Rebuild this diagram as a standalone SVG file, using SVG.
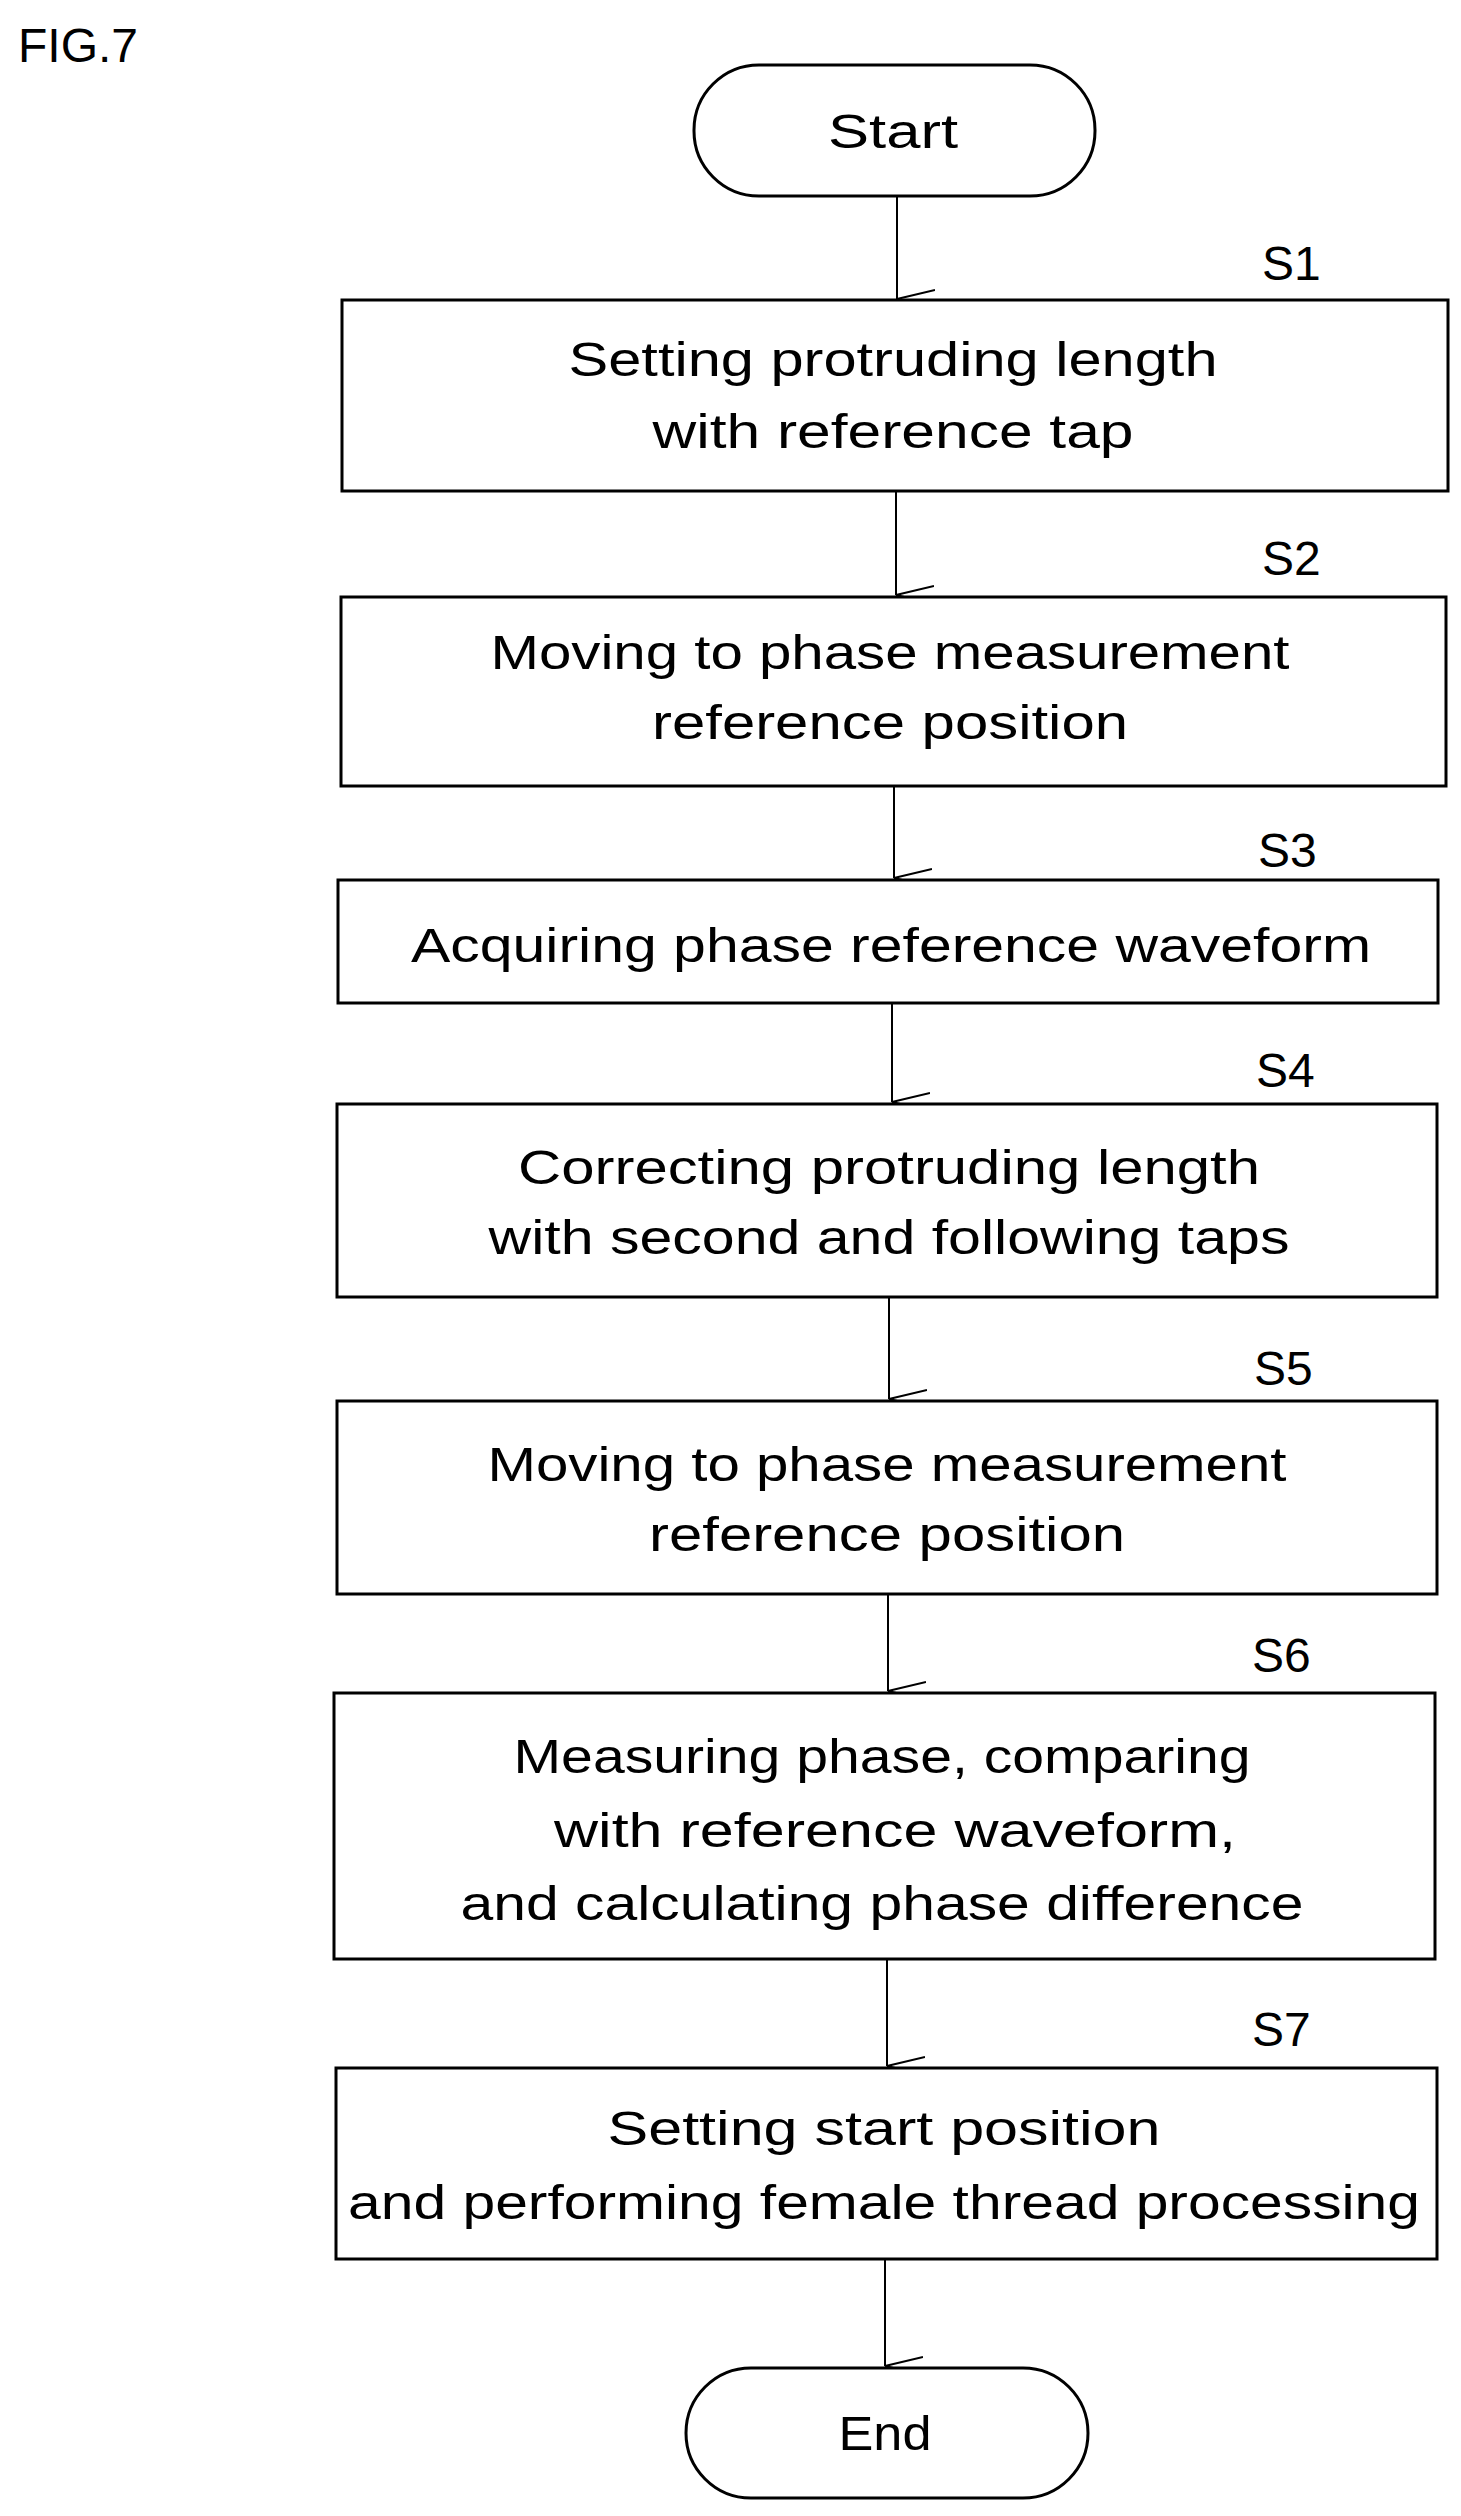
<svg xmlns="http://www.w3.org/2000/svg" width="1461" height="2516" viewBox="0 0 1461 2516">
<style>
.b{fill:#fff;stroke:#000;stroke-width:3}
.t{font-family:"Liberation Sans",Arial,sans-serif;font-size:48px;text-anchor:middle;fill:#000}
.l{font-family:"Liberation Sans",Arial,sans-serif;font-size:48px;fill:#000}
.c{stroke:#000;stroke-width:2;fill:none}
</style>
<defs><marker id="a" markerWidth="20" markerHeight="40" refX="10" refY="38" orient="auto" markerUnits="userSpaceOnUse" viewBox="0 0 20 40"><polyline points="1,0 10,38 19,0" fill="none" stroke="#000" stroke-width="2"/></marker></defs>
<text x="18" y="62" class="l" font-size="44">FIG.7</text>
<g id="connectors">
<line class="c" x1="897" y1="196" x2="897" y2="299" marker-end="url(#a)"/>
<line class="c" x1="896" y1="491" x2="896" y2="595" marker-end="url(#a)"/>
<line class="c" x1="894" y1="786" x2="894" y2="878" marker-end="url(#a)"/>
<line class="c" x1="892" y1="1003" x2="892" y2="1102" marker-end="url(#a)"/>
<line class="c" x1="889" y1="1297" x2="889" y2="1399" marker-end="url(#a)"/>
<line class="c" x1="888" y1="1594" x2="888" y2="1691" marker-end="url(#a)"/>
<line class="c" x1="887" y1="1959" x2="887" y2="2066" marker-end="url(#a)"/>
<line class="c" x1="885" y1="2259" x2="885" y2="2366" marker-end="url(#a)"/>
</g>
<g id="start"><rect class="b" x="694" y="65" width="401" height="131" rx="65"/><text class="t" x="893" y="148" textLength="130" lengthAdjust="spacingAndGlyphs">Start</text></g>
<g id="s1"><rect class="b" x="342" y="300" width="1106" height="191"/><text class="l" x="1262" y="280">S1</text>
<text class="t" x="893" y="376" textLength="649" lengthAdjust="spacingAndGlyphs">Setting protruding length</text>
<text class="t" x="893" y="448" textLength="481" lengthAdjust="spacingAndGlyphs">with reference tap</text></g>
<g id="s2"><rect class="b" x="341" y="597" width="1105" height="189"/><text class="l" x="1262" y="575">S2</text>
<text class="t" x="890" y="669" textLength="799" lengthAdjust="spacingAndGlyphs">Moving to phase measurement</text>
<text class="t" x="890" y="739" textLength="476" lengthAdjust="spacingAndGlyphs">reference position</text></g>
<g id="s3"><rect class="b" x="338" y="880" width="1100" height="123"/><text class="l" x="1258" y="867">S3</text>
<text class="t" x="891" y="962" textLength="960" lengthAdjust="spacingAndGlyphs">Acquiring phase reference waveform</text></g>
<g id="s4"><rect class="b" x="337" y="1104" width="1100" height="193"/><text class="l" x="1256" y="1087">S4</text>
<text class="t" x="889" y="1184" textLength="742" lengthAdjust="spacingAndGlyphs">Correcting protruding length</text>
<text class="t" x="889" y="1254" textLength="801" lengthAdjust="spacingAndGlyphs">with second and following taps</text></g>
<g id="s5"><rect class="b" x="337" y="1401" width="1100" height="193"/><text class="l" x="1254" y="1385">S5</text>
<text class="t" x="887" y="1481" textLength="799" lengthAdjust="spacingAndGlyphs">Moving to phase measurement</text>
<text class="t" x="887" y="1551" textLength="476" lengthAdjust="spacingAndGlyphs">reference position</text></g>
<g id="s6"><rect class="b" x="334" y="1693" width="1101" height="266"/><text class="l" x="1252" y="1672">S6</text>
<text class="t" x="882" y="1773" textLength="737" lengthAdjust="spacingAndGlyphs">Measuring phase, comparing</text>
<text class="t" x="895" y="1847" textLength="682" lengthAdjust="spacingAndGlyphs">with reference waveform,</text>
<text class="t" x="882" y="1920" textLength="843" lengthAdjust="spacingAndGlyphs">and calculating phase difference</text></g>
<g id="s7"><rect class="b" x="336" y="2068" width="1101" height="191"/><text class="l" x="1252" y="2046">S7</text>
<text class="t" x="884" y="2145" textLength="553" lengthAdjust="spacingAndGlyphs">Setting start position</text>
<text class="t" x="884" y="2219" textLength="1072" lengthAdjust="spacingAndGlyphs">and performing female thread processing</text></g>
<g id="end"><rect class="b" x="686" y="2368" width="402" height="130" rx="65"/><text class="t" x="885" y="2450" textLength="93" lengthAdjust="spacingAndGlyphs">End</text></g>
</svg>
